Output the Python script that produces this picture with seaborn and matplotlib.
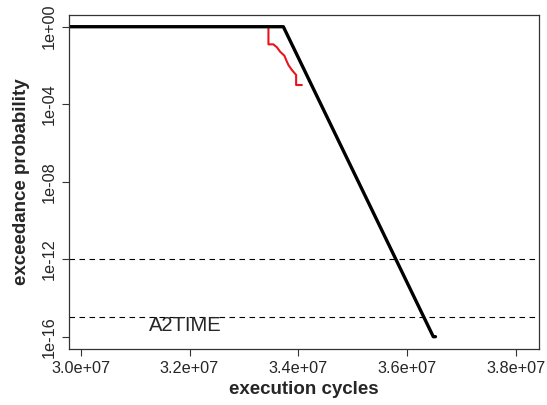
import numpy as np
import pandas as pd
import matplotlib
matplotlib.use("Agg")
import matplotlib.pyplot as plt
import seaborn as sns

# values
# black curve (fitted exceedance)
fit_cycles = [2.975e7, 3.3724e7, 3.648e7, 3.652e7]
fit_prob = [1.0, 1.0, 1e-16, 1e-16]

# red curve (observed exceedance, step-like)
obs_cycles = [3.345e7, 3.345e7, 3.354e7, 3.3605e7, 3.3665e7, 3.3744e7, 3.3776e7,
              3.3818e7, 3.3880e7, 3.3959e7, 3.3959e7, 3.4064e7]
obs_logprob = [0.0, -0.91, -0.91, -1.06, -1.29, -1.50, -1.72,
               -1.98, -2.23, -2.49, -3.01, -3.01]

thresholds = [1e-12, 1e-15]
y_ticks = [1e0, 1e-4, 1e-8, 1e-12, 1e-16]
y_ticklabels = ["1e+00", "1e-04", "1e-08", "1e-12", "1e-16"]
x_ticks = [3.0e7, 3.2e7, 3.4e7, 3.6e7, 3.8e7]
x_ticklabels = ["3.0e+07", "3.2e+07", "3.4e+07", "3.6e+07", "3.8e+07"]

fit = pd.DataFrame({"cycles": fit_cycles, "prob": fit_prob})
obs = pd.DataFrame({"cycles": obs_cycles, "prob": np.power(10.0, obs_logprob)})

sns.set_style("white")
plt.rcParams["font.family"] = ["Liberation Sans", "DejaVu Sans"]

fig = plt.figure(figsize=(5.47, 4.05), dpi=100)
ax = fig.add_axes([0.1267, 0.1395, 0.8592, 0.8242])

ax.set_yscale("log")
sns.lineplot(data=obs, x="cycles", y="prob", sort=False, estimator=None,
             color="#e8141c", linewidth=1.5, ax=ax)
sns.lineplot(data=fit, x="cycles", y="prob", sort=False, estimator=None,
             color="black", linewidth=2.4, ax=ax)

for t in thresholds:
    ax.axhline(t, color="black", linewidth=0.8, linestyle=(0, (5, 4)))

ax.text(3.192e7, 10 ** -15.43, "A2TIME", fontsize=14.5, ha="center", va="center")

ax.set_xlim(2.979e7, 3.8428e7)
ax.set_ylim(10 ** -16.61, 10 ** 0.62)
ax.set_xticks(x_ticks)
ax.set_xticklabels(x_ticklabels)
ax.set_yticks(y_ticks)
ax.set_yticklabels(y_ticklabels, rotation=90, va="center")
ax.minorticks_off()
ax.tick_params(axis="both", direction="out", length=5.3, width=0.8,
               labelsize=11.7, color="#333333", pad=4, left=True, bottom=True)

ax.set_xlabel("execution cycles", fontsize=13.5, fontweight="bold", labelpad=3)
ax.set_ylabel("exceedance probability", fontsize=13.5, fontweight="bold", labelpad=8)

for s in ax.spines.values():
    s.set_color("#333333")
    s.set_linewidth(0.9)

fig.savefig("out.png", dpi=100)
